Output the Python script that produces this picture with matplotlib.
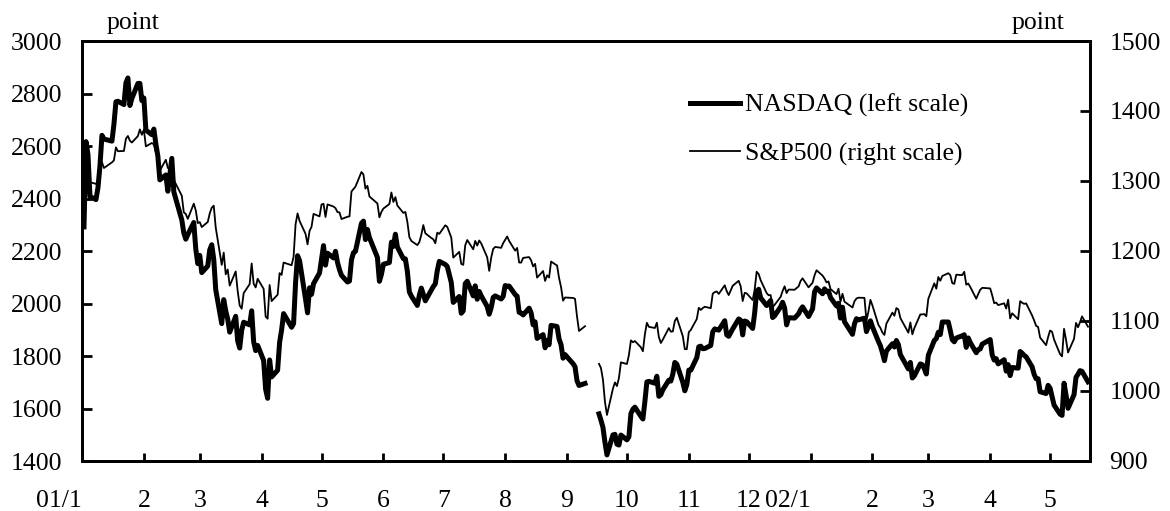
import matplotlib.pyplot as plt
import numpy as np
import pandas as pd
from matplotlib.transforms import ScaledTranslation

plt.rcParams['font.family'] = ['Liberation Serif', 'DejaVu Serif']
plt.rcParams['font.size'] = 18.5

# NYSE/NASDAQ closed days (incl. 9/11 closure)
holidays = ['2001-01-15', '2001-02-19', '2001-04-13', '2001-05-28', '2001-07-04',
            '2001-09-03', '2001-09-11', '2001-09-12', '2001-09-13', '2001-09-14',
            '2001-11-22', '2001-12-25', '2002-01-01', '2002-01-21', '2002-02-18',
            '2002-03-29']

# daily closes, 2001/1/2 - 2002/5/20
nasdaq = [
    # 2001 Jan
    2291.86, 2616.69, 2566.83, 2407.65, 2395.92, 2441.30, 2524.18, 2640.57, 2626.50, 2618.55,
    2682.78, 2768.49, 2770.38, 2757.91, 2840.39, 2859.15, 2754.28, 2781.30, 2838.34, 2838.35,
    2772.73,
    # Feb
    2782.79, 2660.50, 2643.21, 2664.49, 2607.82, 2562.06, 2470.97, 2489.66, 2427.72, 2491.40,
    2552.91, 2425.38, 2318.35, 2268.94, 2244.96, 2262.51, 2308.50, 2207.82, 2151.83,
    # Mar
    2183.37, 2117.63, 2142.92, 2204.43, 2223.92, 2168.73, 2052.78, 1923.38, 2014.78, 1972.09,
    1940.71, 1890.91, 1951.18, 1857.44, 1830.23, 1897.70, 1928.68, 1918.49, 1972.26, 1854.13,
    1820.57, 1840.26,
    # Apr
    1782.97, 1673.00, 1638.80, 1785.00, 1720.36, 1745.71, 1852.03, 1898.95, 1961.43, 1909.57,
    1923.22, 2079.44, 2182.14, 2163.41, 2016.61, 1964.41, 2059.80, 2034.88, 2075.68, 2116.24,
    # May
    2168.24, 2220.60, 2146.20, 2191.53, 2173.57, 2198.77, 2156.63, 2128.86, 2107.43, 2081.92,
    2085.58, 2166.44, 2193.68, 2198.88, 2305.59, 2313.85, 2243.48, 2282.02, 2251.03, 2175.54,
    2084.50, 2110.49,
    # Jun
    2149.44, 2155.93, 2233.66, 2217.73, 2264.00, 2215.10, 2170.78, 2169.95, 2122.76, 2044.07,
    2028.43, 1992.66, 2031.24, 2058.76, 2034.84, 2010.13, 2050.87, 2064.62, 2074.74, 2125.46,
    2160.54,
    # Jul
    2148.72, 2140.80, 2080.11, 2004.16, 2026.71, 1962.79, 1972.04, 2075.74, 2084.79, 2029.12,
    2067.32, 2016.17, 2045.98, 2029.37, 1988.56, 1959.24, 1984.32, 2022.96, 2029.07, 2017.24,
    2027.13,
    # Aug
    2068.38, 2066.33, 2066.33, 2034.26, 2027.79, 1966.36, 1963.32, 1956.47, 1982.25, 1964.53,
    1918.89, 1930.32, 1867.01, 1881.35, 1831.30, 1860.01, 1842.97, 1916.80, 1912.41, 1864.98,
    1843.17, 1791.68, 1805.43,
    # Sep
    1770.77, 1759.10, 1705.64, 1687.70, 1695.38, 1579.55, 1555.08, 1527.80, 1470.93, 1423.19,
    1499.40, 1501.64, 1464.04, 1460.71, 1498.80,
    # Oct
    1480.46, 1492.33, 1580.81, 1597.31, 1605.30, 1570.19, 1559.99, 1626.26, 1701.47, 1703.40,
    1696.31, 1722.86, 1646.34, 1652.72, 1671.31, 1708.08, 1704.44, 1731.54, 1775.47, 1768.96,
    1699.52, 1667.41, 1690.20,
    # Nov
    1746.30, 1745.73, 1793.65, 1835.08, 1837.53, 1827.77, 1828.48, 1840.13, 1892.10, 1903.19,
    1900.57, 1898.58, 1934.42, 1880.51, 1875.05, 1903.20, 1941.23, 1935.97, 1880.34, 1933.26,
    1930.58,
    # Dec
    1904.90, 1963.83, 2046.84, 2054.27, 2021.26, 1992.12, 2001.93, 2011.38, 1946.51, 1953.17,
    1987.45, 2004.76, 1982.89, 1918.54, 1945.83, 1944.48, 1960.70, 1976.42, 1987.26, 1950.40,
    # 2002 Jan
    1979.25, 2044.27, 2059.38, 2037.10, 2055.74, 2044.89, 2047.24, 2022.46, 1990.74, 2000.91,
    1944.44, 1985.82, 1930.34, 1882.53, 1922.38, 1942.16, 1937.70, 1943.91, 1892.99, 1913.44,
    1934.03,
    # Feb
    1911.24, 1855.53, 1838.52, 1812.71, 1782.11, 1818.88, 1846.66, 1834.21, 1859.16, 1843.37,
    1805.20, 1750.61, 1775.57, 1716.24, 1724.54, 1769.88, 1766.86, 1751.88, 1731.49,
    # Mar
    1802.74, 1859.32, 1866.29, 1890.40, 1881.63, 1929.67, 1929.49, 1897.12, 1862.03, 1854.14,
    1868.30, 1877.06, 1880.87, 1832.87, 1868.83, 1851.39, 1812.49, 1824.17, 1826.75, 1845.35,
    # Apr
    1862.62, 1804.40, 1784.35, 1789.75, 1770.03, 1785.87, 1742.57, 1767.07, 1725.24, 1756.19,
    1753.78, 1817.13, 1810.67, 1802.43, 1796.83, 1758.68, 1730.29, 1713.29, 1713.34, 1663.89,
    1656.93, 1688.23,
    # May
    1677.53, 1644.82, 1613.03, 1578.48, 1573.82, 1696.29, 1650.49, 1600.85, 1652.54, 1719.05,
    1730.44, 1744.17, 1741.39, 1701.80,
]

sp500 = [
    # 2001 Jan
    1283.27, 1347.56, 1333.34, 1298.35, 1295.86, 1300.80, 1313.27, 1326.82, 1318.55, 1326.65,
    1329.47, 1347.97, 1342.54, 1342.90, 1360.40, 1364.30, 1357.51, 1354.95, 1364.17, 1373.73,
    1366.01,
    # Feb
    1373.47, 1349.47, 1354.31, 1352.26, 1340.89, 1332.53, 1314.76, 1330.31, 1318.80, 1315.92,
    1326.61, 1301.53, 1278.94, 1255.27, 1252.82, 1245.86, 1267.65, 1257.94, 1239.94,
    # Mar
    1241.23, 1234.18, 1241.41, 1253.80, 1261.89, 1264.74, 1233.42, 1180.16, 1197.66, 1166.71,
    1173.56, 1150.53, 1170.81, 1142.62, 1122.14, 1117.58, 1139.83, 1152.69, 1182.17, 1153.29,
    1147.95, 1160.33,
    # Apr
    1145.87, 1106.46, 1103.25, 1151.44, 1128.43, 1137.59, 1168.38, 1165.89, 1183.50, 1179.68,
    1191.81, 1238.16, 1253.69, 1242.98, 1224.36, 1209.47, 1228.75, 1234.52, 1253.05, 1249.46,
    # May
    1266.44, 1267.43, 1248.58, 1266.61, 1263.51, 1261.20, 1255.54, 1255.18, 1245.67, 1248.92,
    1249.44, 1284.99, 1288.49, 1291.96, 1312.83, 1309.38, 1289.05, 1293.17, 1277.89, 1267.93,
    1248.08, 1255.82,
    # Jun
    1260.67, 1267.11, 1283.57, 1270.03, 1276.96, 1264.96, 1254.39, 1255.85, 1241.60, 1219.87,
    1214.36, 1208.43, 1212.58, 1223.14, 1237.04, 1225.35, 1218.60, 1216.76, 1211.07, 1226.20,
    1224.42,
    # Jul
    1236.71, 1234.45, 1219.24, 1190.59, 1198.78, 1181.52, 1180.18, 1208.14, 1215.68, 1202.45,
    1214.44, 1207.71, 1215.02, 1210.85, 1191.03, 1171.65, 1190.49, 1202.93, 1205.82, 1204.52,
    1211.23,
    # Aug
    1215.93, 1220.75, 1214.35, 1200.48, 1204.40, 1183.53, 1183.43, 1190.16, 1191.29, 1186.73,
    1178.02, 1181.66, 1161.97, 1171.41, 1157.26, 1165.31, 1162.09, 1184.93, 1179.21, 1161.51,
    1148.56, 1129.03, 1133.58,
    # Sep
    1132.94, 1131.74, 1106.40, 1085.78, 1092.54, 1038.77, 1032.74, 1016.10, 984.54, 965.80,
    1003.45, 1012.27, 1007.04, 1018.61, 1040.94,
    # Oct
    1038.55, 1051.33, 1072.28, 1069.63, 1071.38, 1062.44, 1056.75, 1080.99, 1097.43, 1091.65,
    1089.98, 1097.54, 1077.09, 1068.61, 1073.48, 1089.90, 1084.78, 1085.20, 1100.09, 1104.61,
    1078.30, 1059.79, 1059.78,
    # Nov
    1084.10, 1087.20, 1102.84, 1118.86, 1115.80, 1118.54, 1120.31, 1118.33, 1139.09, 1141.21,
    1142.24, 1138.65, 1151.06, 1142.66, 1137.03, 1150.34, 1157.42, 1149.50, 1128.52, 1140.20,
    1139.45,
    # Dec
    1129.90, 1144.80, 1170.35, 1167.10, 1158.31, 1139.93, 1136.76, 1137.07, 1119.38, 1123.09,
    1134.36, 1142.92, 1149.56, 1139.93, 1144.89, 1144.65, 1149.37, 1157.13, 1161.02, 1148.08,
    # 2002 Jan
    1154.67, 1165.27, 1172.51, 1164.89, 1160.71, 1155.14, 1156.55, 1145.60, 1138.41, 1146.19,
    1127.57, 1138.88, 1127.58, 1119.31, 1128.18, 1132.15, 1133.28, 1133.06, 1100.64, 1113.57,
    1130.20,
    # Feb
    1122.20, 1094.44, 1090.02, 1083.51, 1080.17, 1096.22, 1111.94, 1107.50, 1118.51, 1116.48,
    1104.18, 1083.34, 1097.98, 1080.95, 1089.84, 1109.43, 1109.38, 1109.89, 1106.73,
    # Mar
    1131.78, 1153.84, 1146.14, 1162.77, 1157.54, 1164.31, 1168.26, 1165.58, 1154.09, 1153.04,
    1166.16, 1165.55, 1170.29, 1151.85, 1153.59, 1148.70, 1131.87, 1138.49, 1144.58, 1147.39,
    # Apr
    1146.54, 1136.76, 1125.40, 1126.34, 1122.73, 1125.29, 1117.80, 1130.47, 1103.69, 1111.01,
    1102.55, 1128.37, 1126.07, 1124.47, 1125.17, 1107.83, 1100.96, 1093.14, 1091.48, 1076.32,
    1065.45, 1076.92,
    # May
    1086.46, 1084.56, 1073.43, 1052.67, 1049.49, 1088.85, 1073.01, 1054.99, 1074.56, 1097.28,
    1091.07, 1098.23, 1106.59, 1091.88,
]

month_labels = ['01/1', '2', '3', '4', '5', '6', '7', '8', '9', '10', '11', '12',
                '02/1', '2', '3', '4', '5']

dates = pd.bdate_range('2001-01-02', '2002-05-20')
dates = dates[~dates.isin(pd.to_datetime(holidays))]

df = pd.DataFrame({'nasdaq': nasdaq, 'sp500': sp500}, index=dates)
# markets closed after 9/11 -> break the lines there
gap = pd.DataFrame({'nasdaq': [np.nan], 'sp500': [np.nan]},
                   index=pd.to_datetime(['2001-09-11']))
df = pd.concat([df, gap]).sort_index()

fig = plt.figure(figsize=(11.7, 5.11), dpi=100)
ax = fig.add_axes([82 / 1170, 1 - 461 / 511, (1090 - 82) / 1170, (461 - 41) / 511])
ax2 = ax.twinx()

l1, = ax.plot(df.index, df['nasdaq'], color='black', lw=3.6, label='NASDAQ (left scale)')
l2, = ax2.plot(df.index, df['sp500'], color='black', lw=1.3, label='S&P500 (right scale)')

ax.set_xlim(pd.Timestamp('2001-01-01'), pd.Timestamp('2002-05-21'))
ax.set_ylim(1400, 3000)
ax2.set_ylim(900, 1500)
ax.set_yticks(range(1400, 3001, 200))
ax2.set_yticks(range(900, 1501, 100))

month_starts = pd.date_range('2001-01-01', '2002-05-01', freq='MS')
ax.set_xticks(month_starts)
ax.set_xticklabels(month_labels)
# keep the month number on the tick, year prefix hangs to the left
shift = ScaledTranslation(6.4 / 100, 0, fig.dpi_scale_trans)
for lab in ax.get_xticklabels():
    if '/' in lab.get_text():
        lab.set_horizontalalignment('right')
        lab.set_transform(lab.get_transform() + shift)

ax.tick_params(axis='x', direction='in', length=6, width=2, pad=21)
ax.tick_params(axis='y', direction='in', length=7, width=2, pad=14)
ax2.tick_params(axis='y', direction='in', length=7, width=2, pad=14)
for a in (ax, ax2):
    for sp in a.spines.values():
        sp.set_linewidth(2)

fig.text(133 / 1170, 1 - 29 / 511, 'point', ha='center', va='baseline')
fig.text(1038 / 1170, 1 - 29 / 511, 'point', ha='center', va='baseline')

ax.legend([l1, l2], [l1.get_label(), l2.get_label()], loc='upper left',
          bbox_to_anchor=(690 / 1170, 1 - 94 / 511), bbox_transform=fig.transFigure,
          frameon=False, borderpad=0, borderaxespad=0, handlelength=1.95,
          handletextpad=0.2, labelspacing=0.97)

plt.savefig('out.png', dpi=100)
